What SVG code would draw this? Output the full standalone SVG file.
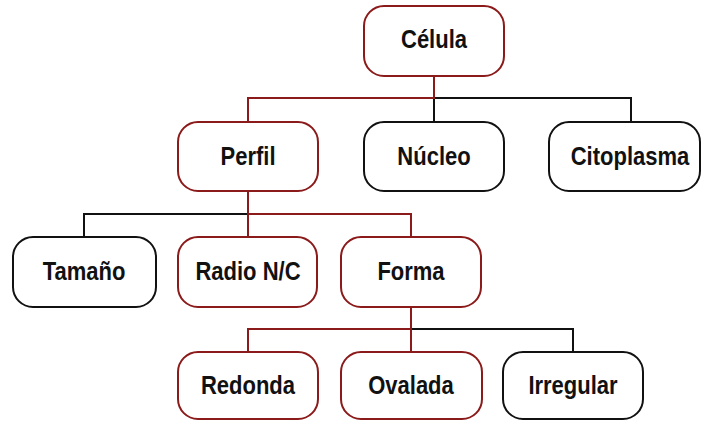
<svg xmlns="http://www.w3.org/2000/svg" width="702" height="421" viewBox="0 0 702 421">
<style>
.r{fill:#fff;stroke:#8b1a1a;stroke-width:2}
.k{fill:#fff;stroke:#111;stroke-width:2}
.t{font-family:"Liberation Sans",Arial,sans-serif;font-weight:bold;font-size:25px;text-anchor:middle;fill:#111}
.lr{fill:none;stroke:#8b1a1a;stroke-width:2}
.lk{fill:none;stroke:#111;stroke-width:2}
</style>
<rect width="702" height="421" fill="#fff"/>
<g id="connectors">
<path class="lk" d="M434 98H631V122M434 98V122"/>
<path class="lr" d="M434 76V98H248V122"/>
<path class="lk" d="M248 214H84V237"/>
<path class="lr" d="M248 191V214H411V237M248 214V237"/>
<path class="lk" d="M411 329H573V352"/>
<path class="lr" d="M411 307V329H248V352M411 329V352"/>
</g>
<g id="celula"><rect class="r" x="364" y="6" width="140" height="70" rx="20"/><text class="t" transform="translate(434 48) scale(0.88 1)">Célula</text></g>
<g id="perfil"><rect class="r" x="178" y="122" width="140" height="69" rx="20"/><text class="t" transform="translate(248 165) scale(0.88 1)">Perfil</text></g>
<g id="nucleo"><rect class="k" x="364" y="122" width="140" height="69" rx="20"/><text class="t" transform="translate(434 165) scale(0.88 1)">Núcleo</text></g>
<g id="citoplasma"><rect class="k" x="549" y="122" width="151" height="69" rx="20"/><text class="t" transform="translate(630 165) scale(0.88 1)">Citoplasma</text></g>
<g id="tamano"><rect class="k" x="13" y="237" width="143" height="70" rx="20"/><text class="t" transform="translate(84 280) scale(0.88 1)">Tamaño</text></g>
<g id="radio"><rect class="r" x="178" y="237" width="139" height="70" rx="20"/><text class="t" transform="translate(248 280) scale(0.88 1)">Radio N/C</text></g>
<g id="forma"><rect class="r" x="341" y="237" width="140" height="70" rx="20"/><text class="t" transform="translate(411 280) scale(0.88 1)">Forma</text></g>
<g id="redonda"><rect class="r" x="178" y="352" width="140" height="67" rx="20"/><text class="t" transform="translate(248 394) scale(0.88 1)">Redonda</text></g>
<g id="ovalada"><rect class="r" x="341" y="352" width="141" height="67" rx="20"/><text class="t" transform="translate(411 394) scale(0.88 1)">Ovalada</text></g>
<g id="irregular"><rect class="k" x="503" y="352" width="140" height="67" rx="20"/><text class="t" transform="translate(573 394) scale(0.88 1)">Irregular</text></g>
</svg>
